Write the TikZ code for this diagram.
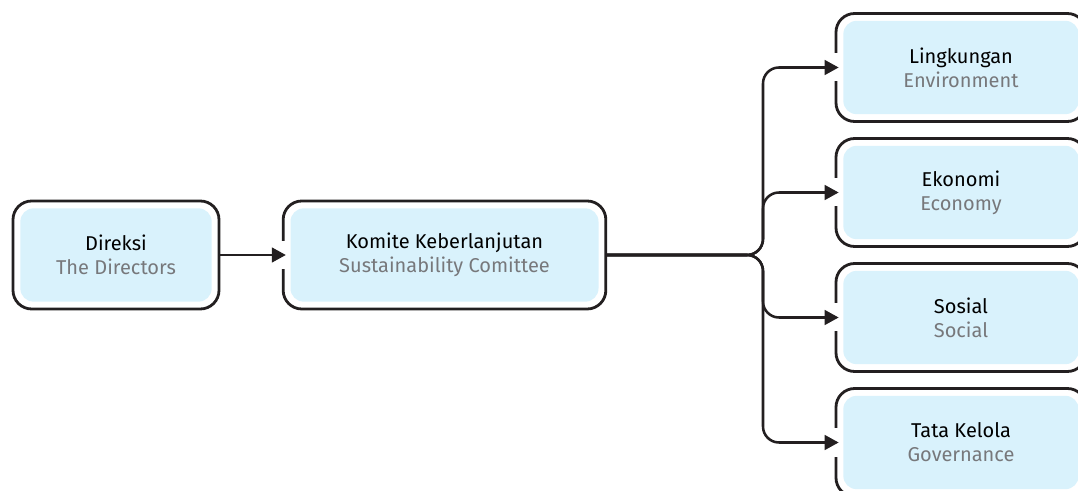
\documentclass[tikz,border=0pt]{standalone}
\usepackage{fontspec}
\setmainfont{Fira Sans}
\usetikzlibrary{arrows.meta}

\begin{document}
\begin{tikzpicture}[x=0.75pt, y=-0.75pt,
    unit/.style={draw=borderColour, line width=2.1pt, rounded corners=14pt, fill=white,
      outer sep=0pt, minimum height=81pt, align=center, font=\fontsize{15}{18}\selectfont,
      path picture={\fill[fillColour, rounded corners=10pt]
        ([shift={(5.5pt,5.5pt)}]path picture bounding box.south west) rectangle
        ([shift={(-5.5pt,-5.5pt)}]path picture bounding box.north east);}},
    link/.style={draw=borderColour, line width=1.9pt, rounded corners=12pt,
      -{Triangle[length=10.5pt,width=11pt]}, shorten >=-2pt}]

    \definecolor{borderColour}{HTML}{231F20}
    \definecolor{fillColour}{HTML}{D9F2FC}
    \definecolor{subColour}{HTML}{77787B}
    \def\engl#1{\textcolor{subColour}{#1}}

    % Page frame
    \clip (0,0) rectangle (1078,491);

    % Left side
    \node[unit, minimum width=154.5pt] (dir) at (116,255) {Direksi\\\engl{The Directors}};
    \node[unit, minimum width=242pt] (kom) at (444.5,255) {Komite Keberlanjutan\\\engl{Sustainability Comittee}};

    % Four pillars
    \node[unit, minimum width=187.5pt] (lin) at (961,67.5) {Lingkungan\\\engl{Environment}};
    \node[unit, minimum width=187.5pt] (eko) at (961,192.5) {Ekonomi\\\engl{Economy}};
    \node[unit, minimum width=187.5pt] (sos) at (961,317.5) {Sosial\\\engl{Social}};
    \node[unit, minimum width=187.5pt] (tat) at (961,442.5) {Tata Kelola\\\engl{Governance}};

    % Openings in the borders for the arrow tips
    \foreach \n in {kom,lin,eko,sos,tat}
        \fill[white] ([shift={(-3pt,-10.5pt)}]\n.west) rectangle ([shift={(3pt,10.5pt)}]\n.west);

    % Branch point
    \coordinate (trunk) at (763,255);

    % Connectors
    \draw[link] (dir.east) -- (kom.west);
    \foreach \n in {lin,eko,sos,tat}
        \draw[link] (kom.east) -- (trunk) |- (\n.west);

\end{tikzpicture}
\end{document}
